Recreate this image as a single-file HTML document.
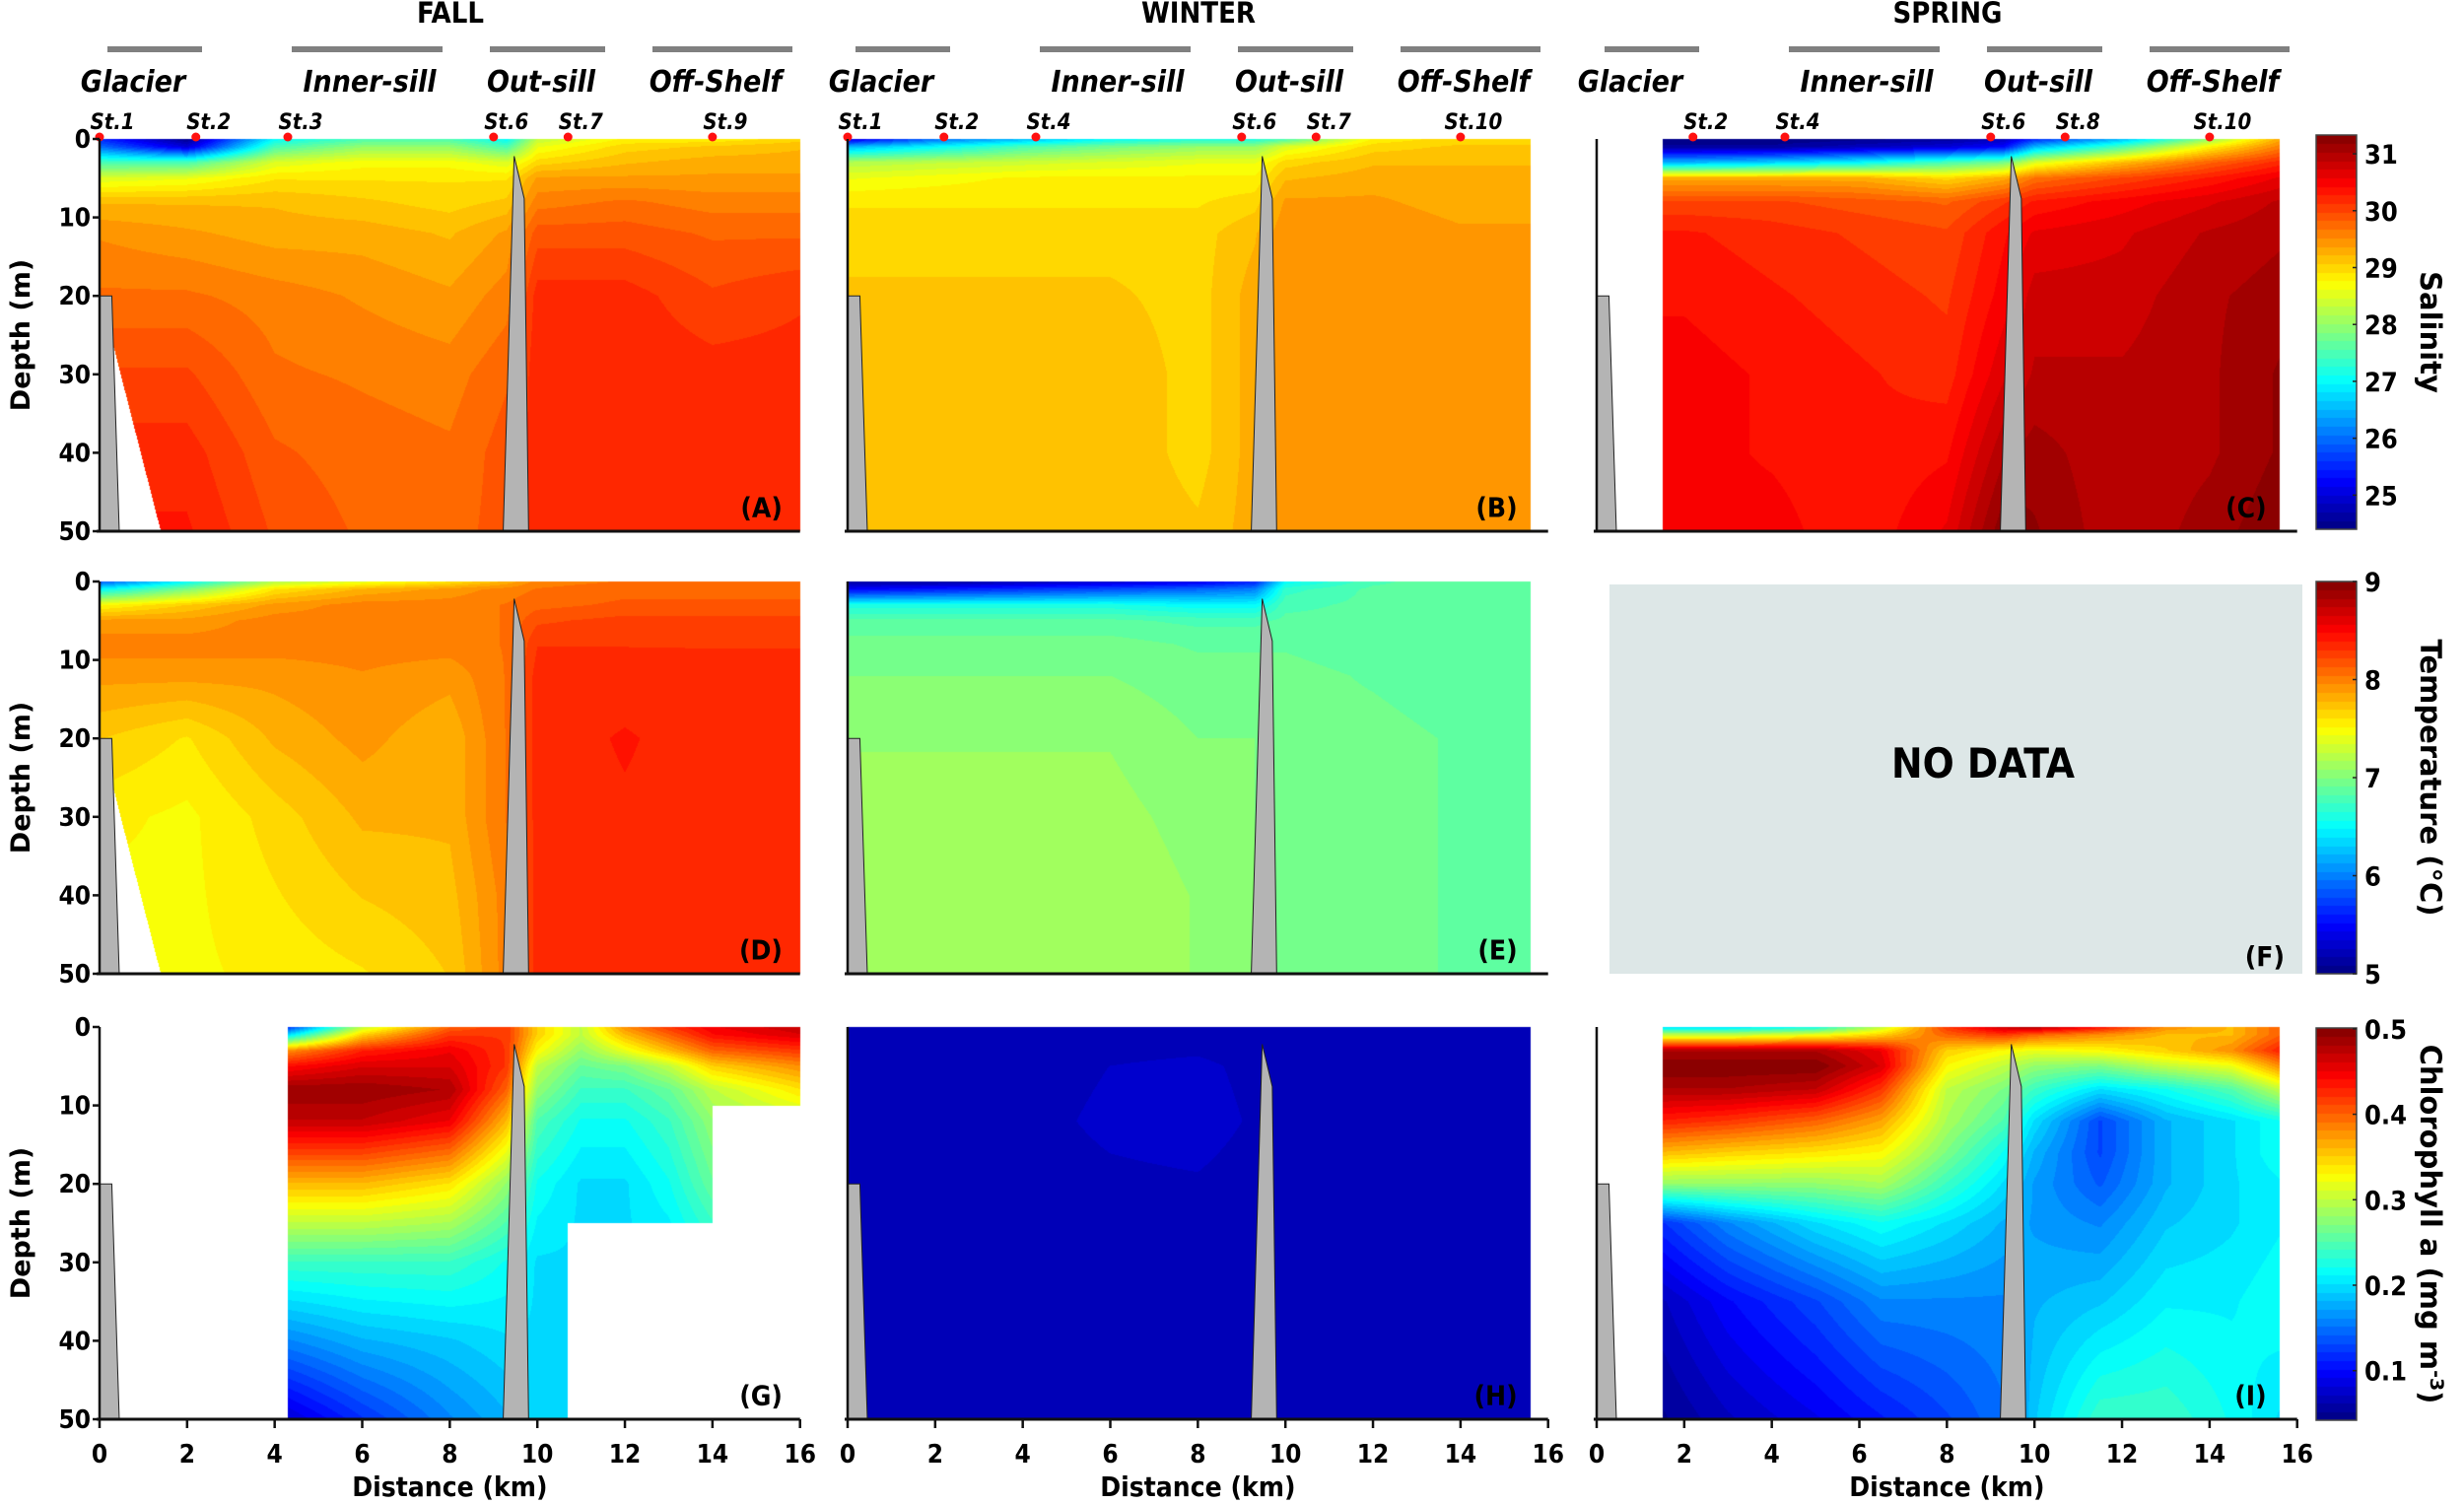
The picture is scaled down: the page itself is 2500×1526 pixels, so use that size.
<!DOCTYPE html>
<html><head><meta charset="utf-8">
<style>
html,body{margin:0;padding:0;background:#fff;}
#root{position:relative;width:2500px;height:1526px;overflow:hidden;font-family:"DejaVu Sans Condensed","DejaVu Sans","Liberation Sans",sans-serif;font-weight:bold;color:#111;}
canvas{position:absolute;}
svg{position:absolute;left:0;top:0;}
</style></head>
<body>
<div id="root">
<canvas id="cv" width="2500" height="1526" style="left:0;top:0"></canvas>
<svg id="ov" width="2500" height="1526"></svg>
</div>
<script>
// ---------- data ----------
const salDepths=[0,1,3,5,8,12,20,30,40,50];
const fallSalX=[0,2,4,6,8,9.3,10,12,14,16];
const fallSal=[
[25.5,24.5,27,27.5,27.5,27,28.3,28.8,28.8,29.0],
[26,25,27.5,28,28,27.5,28.6,29.0,29.1,29.2],
[27.5,27.5,28.5,28.7,28.7,28.5,29.0,29.2,29.3,29.3],
[28.5,28.6,28.9,28.9,28.9,28.9,29.4,29.4,29.4,29.4],
[29.2,29.2,29.2,29.1,29.0,29.1,29.6,29.7,29.6,29.6],
[29.5,29.4,29.3,29.3,29.2,29.4,29.9,29.9,29.8,29.8],
[29.7,29.7,29.6,29.5,29.4,29.6,30.2,30.2,30.0,30.1],
[30.0,30.0,29.7,29.65,29.6,29.8,30.25,30.25,30.2,30.2],
[30.2,30.2,29.85,29.75,29.7,29.9,30.25,30.25,30.25,30.25],
[30.3,30.3,29.95,29.8,29.75,29.9,30.25,30.25,30.25,30.25]];
const winSalX=[0,2,4,6,8,9.3,10,12,14,15.6];
const winSal=[
[25,26,26.5,27,27.2,27.2,27.5,28.8,29,29],
[26.5,27,27.5,27.8,28,28,28.5,29,29.1,29.1],
[28.2,28.3,28.4,28.5,28.6,28.6,29,29.2,29.2,29.2],
[28.6,28.7,28.8,28.8,28.8,28.8,29.2,29.3,29.3,29.3],
[28.9,28.9,28.9,28.9,28.9,29.0,29.4,29.4,29.3,29.3],
[29.0,29.0,29.0,29.0,29.0,29.2,29.5,29.5,29.4,29.4],
[29.1,29.1,29.1,29.1,29.0,29.3,29.5,29.5,29.4,29.4],
[29.2,29.2,29.2,29.2,29.0,29.3,29.5,29.5,29.5,29.5],
[29.2,29.2,29.2,29.2,29.0,29.3,29.5,29.5,29.5,29.5],
[29.2,29.2,29.2,29.2,29.1,29.3,29.5,29.5,29.5,29.5]];
const sprSalX=[1.5,2,4,6,8,9.3,10,12,14,15.6];
const sprSal=[
[24.4,24.4,24.4,24.5,24.6,24.8,25.5,26.5,28,29.3],
[24.6,24.6,24.6,24.8,25,25.3,26.5,27.5,28.8,29.6],
[26.5,26.5,26.7,27,27.5,27.8,28.5,29.2,29.8,30.2],
[29.3,29.3,29.3,29.3,29.0,29.3,29.7,30.0,30.3,30.6],
[30.0,30.0,30.0,29.9,29.8,30.1,30.3,30.5,30.7,30.9],
[30.3,30.3,30.2,30.1,30.0,30.4,30.6,30.7,30.9,31.0],
[30.4,30.4,30.3,30.2,30.1,30.5,30.8,30.8,31.0,31.1],
[30.5,30.5,30.4,30.3,30.2,30.7,30.9,30.9,31.0,31.2],
[30.5,30.5,30.4,30.3,30.4,31.0,31.1,30.9,31.0,31.2],
[30.5,30.5,30.5,30.3,30.6,31.3,31.2,30.9,31.1,31.3]];
const fallTemX=[0,2,4,6,8,9.3,10,12,14,16];
const fallTem=[
[5.8,6.5,7.2,7.4,7.6,7.8,8.0,8.05,8.05,8.05],
[6.5,7.0,7.6,7.8,7.9,8.0,8.05,8.1,8.1,8.1],
[7.5,7.7,7.9,8.0,8.0,8.05,8.1,8.15,8.15,8.15],
[7.9,7.9,8.0,8.0,8.0,8.05,8.2,8.25,8.25,8.25],
[8.0,8.0,8.0,8.0,8.0,8.05,8.3,8.3,8.3,8.3],
[7.9,7.9,7.9,7.95,7.9,8.05,8.35,8.35,8.33,8.33],
[7.7,7.6,7.8,7.9,7.8,8.05,8.35,8.4,8.35,8.35],
[7.55,7.5,7.65,7.8,7.8,8.05,8.35,8.38,8.35,8.35],
[7.5,7.5,7.6,7.7,7.75,8.0,8.35,8.35,8.35,8.35],
[7.45,7.5,7.55,7.6,7.7,8.0,8.35,8.35,8.35,8.35]];
const winTemX=[0,2,4,6,8,9.3,10,12,14,15.6];
const winTem=[
[5.1,5.1,5.2,5.3,5.4,5.6,6.5,6.8,6.9,6.9],
[5.5,5.6,5.7,5.8,5.9,6.0,6.7,6.85,6.85,6.85],
[6.6,6.6,6.6,6.6,6.5,6.5,6.8,6.85,6.85,6.85],
[6.85,6.85,6.85,6.85,6.8,6.8,6.85,6.85,6.85,6.85],
[6.95,6.95,6.95,6.95,6.9,6.9,6.9,6.85,6.85,6.85],
[7.0,7.0,7.0,7.0,6.95,6.95,6.95,6.9,6.85,6.85],
[7.08,7.08,7.08,7.08,7.0,7.0,6.95,6.95,6.9,6.9],
[7.12,7.12,7.12,7.12,7.05,7.0,6.95,6.95,6.9,6.9],
[7.15,7.15,7.15,7.15,7.08,7.0,6.95,6.95,6.9,6.9],
[7.15,7.15,7.15,7.15,7.08,7.0,6.95,6.95,6.9,6.9]];
const fallChlX=[4.3,6,8,9.3,10,11,12,13,14,16];
const fallChl=[
[0.12,0.3,0.4,0.42,0.35,0.3,0.38,0.42,0.45,0.47],
[0.2,0.35,0.42,0.42,0.35,0.3,0.36,0.4,0.44,0.46],
[0.38,0.43,0.45,0.42,0.33,0.28,0.32,0.36,0.4,0.42],
[0.44,0.46,0.46,0.42,0.3,0.26,0.27,0.3,0.35,0.38],
[0.49,0.49,0.48,0.4,0.28,0.24,0.24,0.26,0.3,0.34],
[0.47,0.47,0.45,0.36,0.25,0.22,0.22,0.24,0.28,0.3],
[0.36,0.36,0.34,0.28,0.22,0.2,0.2,0.22,0.26,0.28],
[0.24,0.24,0.24,0.22,0.2,0.2,0.2,0.2,0.22,0.24],
[0.16,0.18,0.19,0.2,0.2,0.2,0.2,0.2,0.2,0.2],
[0.08,0.12,0.16,0.18,0.2,0.2,0.2,0.2,0.2,0.2]];
const winChlX=[0,3,6,8,10,12,15.6];
const winChlD=[0,5,12,20,35,50];
const winChl=[
[0.062,0.063,0.066,0.066,0.064,0.062,0.062],
[0.063,0.065,0.072,0.074,0.067,0.063,0.063],
[0.064,0.066,0.074,0.076,0.068,0.064,0.064],
[0.064,0.066,0.07,0.071,0.066,0.064,0.064],
[0.063,0.064,0.066,0.066,0.065,0.064,0.064],
[0.062,0.063,0.064,0.064,0.064,0.063,0.063]];
const sprChlX=[1.5,3,5,6.5,8,9.3,10,11.5,13,14.5,15.6];
const sprChlD=[0,1,3,5,8,12,16,20,25,35,50];
const sprChl=[
[0.2,0.2,0.22,0.3,0.42,0.47,0.48,0.44,0.38,0.36,0.4],
[0.3,0.3,0.32,0.35,0.4,0.42,0.4,0.38,0.36,0.36,0.4],
[0.48,0.48,0.48,0.45,0.35,0.33,0.32,0.33,0.35,0.38,0.43],
[0.5,0.5,0.5,0.46,0.33,0.3,0.28,0.27,0.3,0.32,0.38],
[0.48,0.48,0.47,0.42,0.3,0.27,0.24,0.2,0.22,0.25,0.3],
[0.43,0.42,0.4,0.37,0.29,0.25,0.2,0.13,0.18,0.2,0.22],
[0.36,0.35,0.34,0.33,0.27,0.22,0.18,0.13,0.18,0.2,0.22],
[0.28,0.28,0.28,0.29,0.24,0.2,0.17,0.14,0.18,0.2,0.21],
[0.12,0.16,0.2,0.22,0.2,0.18,0.17,0.16,0.19,0.2,0.21],
[0.07,0.1,0.13,0.16,0.16,0.16,0.18,0.19,0.21,0.21,0.22],
[0.05,0.07,0.09,0.11,0.13,0.15,0.19,0.24,0.24,0.22,0.2]];
const seasons=["FALL","WINTER","SPRING"];
const regions=["Glacier","Inner-sill","Out-sill","Off-Shelf"];
const stationNames=[["St.1","St.2","St.3","St.6","St.7","St.9"],["St.1","St.2","St.4","St.6","St.7","St.10"],["St.2","St.4","St.6","St.8","St.10"]];
const stationKm=[[0,2.2,4.3,9.0,10.7,14.0],[0,2.2,4.3,9.0,10.7,14.0],[2.2,4.3,9.0,10.7,14.0]];
const depthTicks=[0,10,20,30,40,50];
const distTicks=[0,2,4,6,8,10,12,14,16];
const salTicks=[31,30,29,28,27,26,25];
const temTicks=[9,8,7,6,5];
const chlTicks=[0.5,0.4,0.3,0.2,0.1];
const ranges=[[24.40,31.33],[5,9],[0.042,0.501]];
const cbTitles=["Salinity","Temperature (°C)","Chlorophyll a (mg m"];
const letters=[["(A)","(B)","(C)"],["(D)","(E)","(F)"],["(G)","(H)","(I)"]];

// ---------- layout ----------
const colX=[101,860,1620], PK=44.42;
const rowY=[141,590,1042], PM=7.96;
const xs=(c,km)=>colX[c]+km*PK, ys=(r,m)=>rowY[r]+m*PM;

function jet(t){t=Math.max(0,Math.min(1,t));const cl=v=>Math.max(0,Math.min(1,v));
 return [cl(1.5-Math.abs(4*t-3)),cl(1.5-Math.abs(4*t-2)),cl(1.5-Math.abs(4*t-1))].map(v=>Math.round(v*255));}
function interp(X,D,G,x,d){
 let i=0;while(i<X.length-2&&x>X[i+1])i++;let j=0;while(j<D.length-2&&d>D[j+1])j++;
 let tx=(x-X[i])/(X[i+1]-X[i]),td=(d-D[j])/(D[j+1]-D[j]);tx=Math.max(0,Math.min(1,tx));td=Math.max(0,Math.min(1,td));
 return G[j][i]*(1-tx)*(1-td)+G[j][i+1]*tx*(1-td)+G[j+1][i]*(1-tx)*td+G[j+1][i+1]*tx*td;}
const LV=46;
const fallMask=(x,d)=>x>=0&&x<=16&&!(d>26&&x<0.3+(d-26)/24*1.1);
const panels=[
 {r:0,c:0,X:fallSalX,D:salDepths,G:fallSal,m:fallMask},
 {r:0,c:1,X:winSalX,D:salDepths,G:winSal,m:(x,d)=>x<=15.6},
 {r:0,c:2,X:sprSalX,D:salDepths,G:sprSal,m:(x,d)=>x>=1.5&&x<=15.6},
 {r:1,c:0,X:fallTemX,D:salDepths,G:fallTem,m:fallMask},
 {r:1,c:1,X:winTemX,D:salDepths,G:winTem,m:(x,d)=>x<=15.6},
 {r:2,c:0,X:fallChlX,D:salDepths,G:fallChl,m:(x,d)=>x>=4.3&&(x<=10.7||(x<=14&&d<=25)||d<=10)},
 {r:2,c:1,X:winChlX,D:winChlD,G:winChl,m:(x,d)=>x<=15.6},
 {r:2,c:2,X:sprChlX,D:sprChlD,G:sprChl,m:(x,d)=>x>=1.5&&x<=15.6}];
const ctx=document.getElementById('cv').getContext('2d');
panels.forEach(p=>{
 const [lo,hi]=ranges[p.r];const x0=Math.round(colX[p.c]),y0=Math.round(rowY[p.r]);
 const W=Math.round(16*PK),H=Math.round(50*PM);const img=ctx.createImageData(W,H);
 for(let py=0;py<H;py++){const d=(py+0.5)/PM;for(let px=0;px<W;px++){const x=(px+0.5)/PK;const k=(py*W+px)*4;
  if(!p.m(x,d)){img.data[k+3]=0;continue;}
  let t=(interp(p.X,p.D,p.G,x,d)-lo)/(hi-lo);t=(Math.floor(t*LV)+0.5)/LV;const c=jet(t);
  img.data[k]=c[0];img.data[k+1]=c[1];img.data[k+2]=c[2];img.data[k+3]=255;}}
 ctx.putImageData(img,x0,y0);
});
// colorbars
for(let r=0;r<3;r++){const top=[137,590,1043][r],bot=[537,988,1441][r];
 for(let y=top;y<bot;y++){const t=1-(y-top)/(bot-top);const c=jet((Math.floor(t*LV)+0.5)/LV);ctx.fillStyle=`rgb(${c})`;ctx.fillRect(2350,y,41,1);}}

// ---------- overlay ----------
const svg=document.getElementById('ov');const NS='http://www.w3.org/2000/svg';
function el(tag,attrs,parent){const e=document.createElementNS(NS,tag);for(const k in attrs)e.setAttribute(k,attrs[k]);(parent||svg).appendChild(e);return e;}
function txt(s,attrs){const e=el('text',attrs);e.textContent=s;return e;}
const regOff=[34,274,448,625];const barOff=[[8,104],[195,348],[396,513],[561,703]];
for(let c=0;c<3;c++){
 const t=txt(seasons[c],{x:colX[c]+356,y:23,'font-size':29,'text-anchor':'middle','font-weight':'bold'});
 
 regions.forEach((rg,i)=>{
  const b=el('rect',{x:colX[c]+barOff[i][0],y:47,width:barOff[i][1]-barOff[i][0],height:6,fill:'#808080'});
  
  const l=txt(rg,{x:colX[c]+regOff[i],y:93,'font-size':30,'font-style':'italic','text-anchor':'middle','font-weight':'bold'});
  });
 stationNames[c].forEach((s,i)=>{const x=xs(c,stationKm[c][i]);
  const l=txt(s,{x:x+13,y:131,'font-size':22,'font-style':'italic','text-anchor':'middle','font-weight':'bold'});
  
  const d=el('circle',{cx:x,cy:139,r:4.5,fill:'#ff1010'});
  });
}
for(let r=0;r<3;r++)for(let c=0;c<3;c++){
 if(r===1&&c===2){
  const b=el('rect',{x:1633,y:593,width:703,height:395,fill:'#dde7e7'});
  
  const t=txt('NO DATA',{x:2012,y:789,'font-size':42,'text-anchor':'middle','font-weight':'bold'});
  
  const lt=txt(letters[r][c],{x:2318,y:980,'font-size':28,'text-anchor':'end','font-weight':'bold'});
  
  continue;}
 const g=el('g',{});
 el('polygon',{points:`${xs(c,0)},${ys(r,20)} ${xs(c,0.28)},${ys(r,20)} ${xs(c,0.45)},${ys(r,50)} ${xs(c,0)},${ys(r,50)}`,fill:'#b4b4b4',stroke:'#222','stroke-width':1},g);
 el('polygon',{points:`${xs(c,9.22)},${ys(r,50)} ${xs(c,9.47)},${ys(r,2.2)} ${xs(c,9.7)},${ys(r,7.6)} ${xs(c,9.8)},${ys(r,50)}`,fill:'#b4b4b4',stroke:'#222','stroke-width':1},g);
 el('line',{x1:xs(c,0),y1:ys(r,0),x2:xs(c,0),y2:ys(r,50)+1,stroke:'#111','stroke-width':2.5},g);
 el('line',{x1:xs(c,0)-3,y1:ys(r,50),x2:xs(c,16),y2:ys(r,50),stroke:'#111','stroke-width':3},g);
 const lt=txt(letters[r][c],{x:xs(c,c===0?15.6:15.3),y:ys(r,48.2),'font-size':28,'text-anchor':'end','font-weight':'bold'});
 
 if(r===2){distTicks.forEach(v=>{
  el('line',{x1:xs(c,v),y1:ys(r,50),x2:xs(c,v),y2:ys(r,50)+9,stroke:'#111','stroke-width':2.5},g);
  const t=txt(String(v),{x:xs(c,v),y:1484,'font-size':26,'text-anchor':'middle','font-weight':'bold'});
  });
  const xt=txt('Distance (km)',{x:xs(c,8),y:1518,'font-size':28,'text-anchor':'middle','font-weight':'bold'});
  }
}
for(let r=0;r<3;r++){
 depthTicks.forEach(v=>{
  el('line',{x1:colX[0]-7,y1:ys(r,v),x2:colX[0],y2:ys(r,v),stroke:'#111','stroke-width':2.5});
  const t=txt(String(v),{x:colX[0]-9,y:ys(r,v)+9,'font-size':26,'text-anchor':'end','font-weight':'bold'});
  });
 const yc=ys(r,25);
 const yt=txt('Depth (m)',{x:0,y:0,'font-size':27,'text-anchor':'middle','font-weight':'bold',transform:`translate(30,${yc}) rotate(-90)`,'font-family':'DejaVu Sans'});
 
 const top=[137,590,1043][r],bot=[537,988,1441][r];
 el('rect',{x:2350,y:top,width:41,height:bot-top,fill:'none',stroke:'#444','stroke-width':1.5});
 const ticks=[salTicks,temTicks,chlTicks][r];const [lo,hi]=ranges[r];
 ticks.forEach(v=>{const y=bot-(v-lo)/(hi-lo)*(bot-top);
  el('line',{x1:2387,y1:y,x2:2391,y2:y,stroke:'#222','stroke-width':1.5});
  const t=txt(String(v),{x:2399,y:y+10,'font-size':27,'font-weight':'bold'});
  });
 const ct=txt(cbTitles[r],{x:0,y:0,'font-size':29,'text-anchor':'middle','font-weight':'bold','font-family':'DejaVu Sans',transform:`translate(2456,${(top+bot)/2}) rotate(90)`});
 if(r===2){const s=el('tspan',{dy:-10,'font-size':19},ct);s.textContent='-3';const s2=el('tspan',{dy:10},ct);s2.textContent=')';}
 
}
</script>
</body></html>
